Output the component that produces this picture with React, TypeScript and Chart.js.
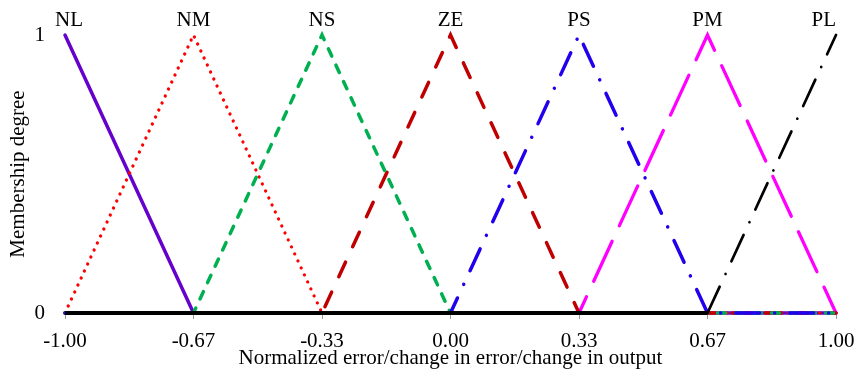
import { useEffect, useRef } from 'react';
import { Chart, registerables } from 'chart.js';

Chart.register(...registerables);

// ---- data ----
const xValues = [-1, -2 / 3, -1 / 3, 0, 1 / 3, 2 / 3, 1];
const xTickLabels = ['-1.00', '-0.67', '-0.33', '0.00', '0.33', '0.67', '1.00'];
const yTickValues = [0, 1];
const setNames = ['NL', 'NM', 'NS', 'ZE', 'PS', 'PM', 'PL'];
const NL = [1, 0, 0, 0, 0, 0, 0];
const NM = [0, 1, 0, 0, 0, 0, 0];
const NS = [0, 0, 1, 0, 0, 0, 0];
const ZE = [0, 0, 0, 1, 0, 0, 0];
const PS = [0, 0, 0, 0, 1, 0, 0];
const PM = [0, 0, 0, 0, 0, 1, 0];
const PL = [0, 0, 0, 0, 0, 0, 1];
const seriesValues = [NL, NM, NS, ZE, PS, PM, PL];

// ---- styles ----
const FONT = '"Liberation Serif", "Times New Roman", serif';
const FS = 21;
const colors = ['#6600cc', '#ff0000', '#00b050', '#c00000', '#2200ee', '#ff00ff', '#000000'];
const dashes = [[], [0.01, 7.7], [8, 10], [16, 17], [24, 15, 0.01, 15], [44, 17], [29, 14, 0.01, 14]];
const widths = [3.5, 3.3, 3.5, 3.5, 3.5, 3.3, 2.7];
const drawOrder = [6, 5, 2, 3, 1, 4, 0];

const nameLabels = {
  id: 'nameLabels',
  afterDatasetsDraw(chart: any) {
    const { ctx, scales } = chart;
    const x = scales.x;
    const y = scales.y;
    ctx.save();
    ctx.font = `${FS}px ${FONT}`;
    ctx.fillStyle = '#000';
    ctx.textBaseline = 'alphabetic';
    setNames.forEach((name, i) => {
      const peak = seriesValues[i].indexOf(1);
      const px = x.getPixelForValue(xValues[peak]);
      const py = y.getPixelForValue(1) - 9;
      ctx.textAlign = i === setNames.length - 1 ? 'right' : 'center';
      ctx.fillText(name, i === 0 ? px + 4 : px, py);
    });
    ctx.restore();
  },
};

export default function App() {
  const ref = useRef<HTMLCanvasElement | null>(null);
  useEffect(() => {
    if (!ref.current) return;
    const datasets = seriesValues.map((vals, i) => {
      const isLast = i === seriesValues.length - 1;
      return {
        label: setNames[i],
        data: vals.map((v, j) => ({ x: xValues[j], y: v })),
        borderColor: colors[i],
        backgroundColor: colors[i],
        borderWidth: widths[i],
        borderDash: dashes[i],
        borderCapStyle: 'round' as const,
        borderJoinStyle: 'miter' as const,
        pointRadius: 0,
        tension: 0,
        fill: false,
        clip: false as any,
        order: drawOrder[i],
        segment: isLast
          ? {
              borderDash: (c: any) => (c.p0.parsed.y === 0 && c.p1.parsed.y === 0 ? [] : dashes[i]),
              borderWidth: (c: any) => (c.p0.parsed.y === 0 && c.p1.parsed.y === 0 ? 4 : widths[i]),
              borderCapStyle: (c: any) => (c.p0.parsed.y === 0 && c.p1.parsed.y === 0 ? 'butt' : 'round'),
            }
          : undefined,
      };
    });
    const chart = new Chart(ref.current, {
      type: 'line',
      data: { datasets },
      plugins: [nameLabels],
      options: {
        animation: false,
        responsive: true,
        maintainAspectRatio: false,
        layout: { padding: { top: 35, right: 20, left: 0, bottom: 0 } },
        plugins: { legend: { display: false }, tooltip: { enabled: false } },
        scales: {
          x: {
            type: 'linear',
            min: -1,
            max: 1,
            afterBuildTicks: (s: any) => {
              s.ticks = xValues.map((v) => ({ value: v }));
            },
            afterFit: (s: any) => {
              s.height = 63;
              s.paddingRight = 0;
              s.paddingLeft = 0;
            },
            ticks: {
              color: '#000',
              font: { family: FONT, size: FS },
              padding: 10,
              maxRotation: 0,
              autoSkip: false,
              callback: (_v: any, idx: number) => xTickLabels[idx],
            },
            grid: { display: true, drawOnChartArea: false, drawTicks: true, tickLength: 6, color: '#999', lineWidth: 1 },
            border: { display: false },
            title: {
              display: true,
              text: 'Normalized error/change in error/change in output',
              color: '#000',
              font: { family: FONT, size: FS },
              padding: { top: 0, bottom: 5 },
            },
          },
          y: {
            type: 'linear',
            min: 0,
            max: 1,
            afterBuildTicks: (s: any) => {
              s.ticks = yTickValues.map((v) => ({ value: v }));
            },
            afterFit: (s: any) => {
              s.width = 65;
            },
            ticks: {
              color: '#000',
              font: { family: FONT, size: FS },
              padding: 20,
              callback: (v: any) => String(v),
            },
            grid: { display: false, drawTicks: false },
            border: { display: false },
            title: {
              display: true,
              text: 'Membership degree',
              color: '#000',
              font: { family: FONT, size: FS },
              padding: { top: 6, bottom: 4 },
            },
          },
        },
      } as any,
    });
    return () => chart.destroy();
  }, []);
  return (
    <div style={{ position: 'fixed', left: 0, top: 0, width: 856, height: 376, background: '#fff' }}>
      <canvas ref={ref} />
    </div>
  );
}
